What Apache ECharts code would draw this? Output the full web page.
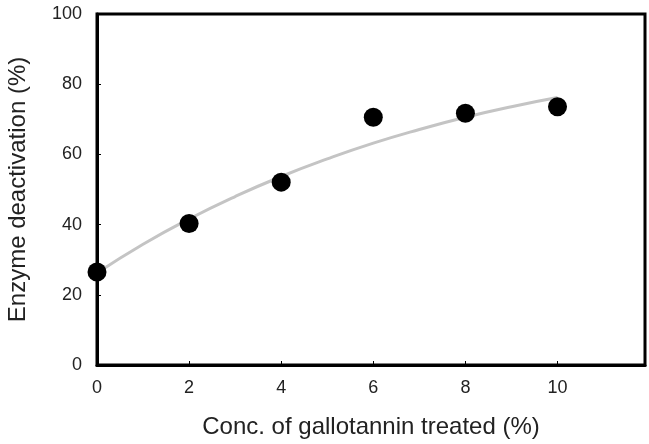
<!DOCTYPE html>
<html>
<head>
<meta charset="utf-8">
<script src="https://cdn.jsdelivr.net/npm/echarts@6/dist/echarts.min.js"></script>
<style>
  html, body { margin: 0; padding: 0; background: #fff; }
  #chart { width: 649px; height: 444px; }
</style>
</head>
<body>
<div id="chart"></div>
<script>
// measured points
const concX = [0, 2, 4, 6, 8, 10]
const deactivation = [26.5, 40.3, 52.1, 70.6, 71.7, 73.6]

// fitted curve
const fitX = [0, 1, 2, 3, 4, 5, 6, 7, 8, 9, 10]
const fitY = [26.2, 34.4, 41.6, 48.0, 53.7, 58.7, 63.2, 67.1, 70.6, 73.6, 76.2]

const xTicks = [0, 2, 4, 6, 8, 10]
const yTicks = [0, 20, 40, 60, 80, 100]

const font = 'Liberation Sans, Arial, sans-serif'

const chart = echarts.init(document.getElementById('chart'))
chart.setOption({
  animation: false,
  grid: {
    left: 97,
    right: 4,
    top: 14,
    bottom: 79,
    outerBoundsMode: 'none',
    containLabel: false,
    show: true,
    borderColor: '#000',
    borderWidth: 3,
    backgroundColor: 'transparent'
  },
  xAxis: {
    type: 'value',
    min: 0,
    max: 11.9,
    interval: 2,
    name: 'Conc. of gallotannin treated (%)',
    nameLocation: 'middle',
    nameGap: 50,
    nameTextStyle: { fontFamily: font, fontSize: 24, color: '#222' },
    axisLine: { show: true, lineStyle: { color: '#000', width: 3 } },
    axisTick: { show: true, inside: true, length: 4, lineStyle: { color: '#000', width: 1 } },
    axisLabel: {
      showMaxLabel: false,
      margin: 14,
      fontFamily: font,
      fontSize: 18,
      color: '#222',
      formatter: v => (xTicks.includes(v) ? String(v) : '')
    },
    splitLine: { show: false }
  },
  yAxis: {
    type: 'value',
    min: 0,
    max: 100,
    interval: 20,
    name: 'Enzyme deactivation (%)',
    nameLocation: 'middle',
    nameGap: 67,
    nameTextStyle: { fontFamily: font, fontSize: 24, color: '#222' },
    axisLine: { show: true, lineStyle: { color: '#000', width: 3 } },
    axisTick: { show: true, inside: true, length: 4, lineStyle: { color: '#000', width: 1 } },
    axisLabel: {
      margin: 15,
      fontFamily: font,
      fontSize: 18,
      color: '#222',
      formatter: v => (yTicks.includes(v) ? String(v) : '')
    },
    splitLine: { show: false }
  },
  series: [
    {
      type: 'line',
      data: fitX.map((x, i) => [x, fitY[i]]),
      smooth: true,
      showSymbol: false,
      symbol: 'none',
      lineStyle: { color: '#c4c4c4', width: 3 },
      z: 2
    },
    {
      type: 'scatter',
      data: concX.map((x, i) => [x, deactivation[i]]),
      symbol: 'circle',
      symbolSize: 19,
      itemStyle: { color: '#000', opacity: 1 },
      z: 3
    }
  ]
})
</script>
</body>
</html>
